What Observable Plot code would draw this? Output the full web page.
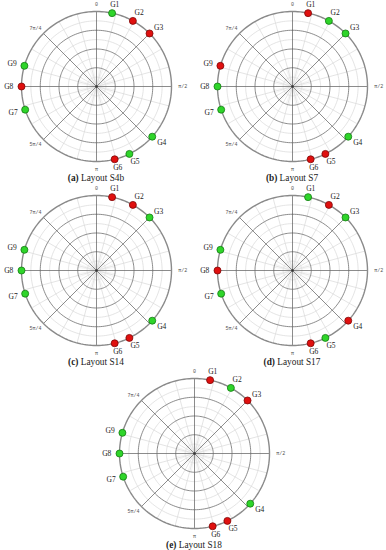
<!DOCTYPE html>
<html>
<head>
<meta charset="utf-8">
<script src="https://cdn.jsdelivr.net/npm/d3@7"></script>
<script src="https://cdn.jsdelivr.net/npm/@observablehq/plot@0.6"></script>
<style>
  body { margin: 0; background: #fff; }
  #wrap { position: relative; width: 386px; height: 550px; overflow: hidden; }
  .panel { position: absolute; width: 192px; height: 190px; }
  .cap { position: absolute; left: 0; width: 192px; top: 173px; text-align: center;
         font: 9.3px "Liberation Serif", serif; color: #1a1a1a; line-height: 10px; }
  .cap b { font-weight: bold; }
</style>
</head>
<body>
<div id="wrap"></div>
<script>
// ---- data ----
const groups = ["G1", "G2", "G3", "G4", "G5", "G6", "G7", "G8", "G9"];
const angles = [12, 29, 45, 132, 154, 166, 252, 270, 286]; // degrees, clockwise from top
const panelLetters = ["a", "b", "c", "d", "e"];
const layoutNames = ["Layout S4b", "Layout S7", "Layout S14", "Layout S17", "Layout S18"];
// 1 = green, 0 = red
const stateS4b = [1, 0, 0, 1, 1, 0, 1, 0, 1];
const stateS7  = [0, 1, 1, 1, 0, 0, 1, 1, 0];
const stateS14 = [0, 0, 1, 1, 0, 0, 1, 1, 1];
const stateS17 = [1, 0, 1, 0, 1, 0, 1, 0, 1];
const stateS18 = [0, 1, 0, 1, 0, 0, 1, 1, 1];
const states = [stateS4b, stateS7, stateS14, stateS17, stateS18];
const tickLabels = ["0", "π/2", "π", "5π/4", "7π/4"];
const tickAngles = [0, 90, 180, 225, 315];
const ringMajor = [0.25, 0.5, 0.75];
const ringMinor = [0.125, 0.375, 0.625, 0.875];

// ---- helpers ----
const rad = a => a * Math.PI / 180;
const px = (r, a) => r * Math.sin(rad(a));
const py = (r, a) => r * Math.cos(rad(a));
const circle = r => d3.range(0, 361, 2).map(a => ({r, a}));

const GREEN = "#2fd52a", GREEN_S = "#137a12";
const RED = "#e0100f", RED_S = "#7d0606";

const boxes = [[0, 0], [196, 0], [0, 184], [196, 184], [98, 367]];

const wrap = document.getElementById("wrap");

states.forEach((st, i) => {
  const pts = groups.map((g, j) => ({g, a: angles[j], on: st[j]}));
  const minorCircles = ringMinor.flatMap(circle);
  const majorCircles = ringMajor.flatMap(circle);
  const innerSpokes = d3.range(0, 360, 10).filter(a => a % 15 !== 0);
  const minorSpokes = d3.range(0, 360, 15).filter(a => a % 45 !== 0);
  const majorSpokes = d3.range(0, 360, 45);
  const ticks = tickLabels.map((t, k) => ({t, a: tickAngles[k]}));

  const chart = Plot.plot({
    width: 192, height: 172, margin: 0,
    style: {overflow: "visible", background: "transparent"},
    x: {domain: [-1.28, 1.28], axis: null},
    y: {domain: [-1.146667, 1.146667], axis: null},
    marks: [
      Plot.link(innerSpokes, {x1: 0, y1: 0, x2: a => px(0.25, a), y2: a => py(0.25, a), stroke: "#e6e6e6", strokeWidth: 0.5}),
      Plot.line(minorCircles, {x: d => px(d.r, d.a), y: d => py(d.r, d.a), z: "r", stroke: "#d8d8d8", strokeWidth: 0.7}),
      Plot.link(minorSpokes, {x1: 0, y1: 0, x2: a => px(1, a), y2: a => py(1, a), stroke: "#d8d8d8", strokeWidth: 0.7}),
      Plot.line(majorCircles, {x: d => px(d.r, d.a), y: d => py(d.r, d.a), z: "r", stroke: "#666", strokeWidth: 0.75}),
      Plot.link(majorSpokes, {x1: 0, y1: 0, x2: a => px(1, a), y2: a => py(1, a), stroke: "#666", strokeWidth: 0.75}),
      Plot.line(circle(1), {x: d => px(d.r, d.a), y: d => py(d.r, d.a), stroke: "#8a8a8a", strokeWidth: 1.4}),
      Plot.dot([0], {x: 0, y: 0, r: 1.2, fill: "#333"}),
      Plot.text(ticks, {x: d => px(1.1, d.a) + 0.05 * Math.sin(rad(d.a)), y: d => py(1.1, d.a), text: "t",
        fontSize: 5, fontFamily: "Liberation Mono, monospace", fill: "#555"}),
      Plot.dot(pts, {x: d => px(1, d.a), y: d => py(1, d.a), r: 3.5,
        fill: d => d.on ? GREEN : RED, stroke: d => d.on ? GREEN_S : RED_S, strokeWidth: 0.8}),
      Plot.text(pts, {x: d => px(1.12, d.a) + 0.05 * Math.sin(rad(d.a)), y: d => py(1.12, d.a), text: "g",
        fontSize: 7.5, fontFamily: "Liberation Serif, serif", fill: "#222"})
    ]
  });

  const panel = document.createElement("div");
  panel.className = "panel";
  panel.style.left = boxes[i][0] + "px";
  panel.style.top = boxes[i][1] + "px";
  panel.appendChild(chart);
  const cap = document.createElement("div");
  cap.className = "cap";
  cap.innerHTML = "<b>(" + panelLetters[i] + ")</b> " + layoutNames[i];
  panel.appendChild(cap);
  wrap.appendChild(panel);
});
</script>
</body>
</html>
